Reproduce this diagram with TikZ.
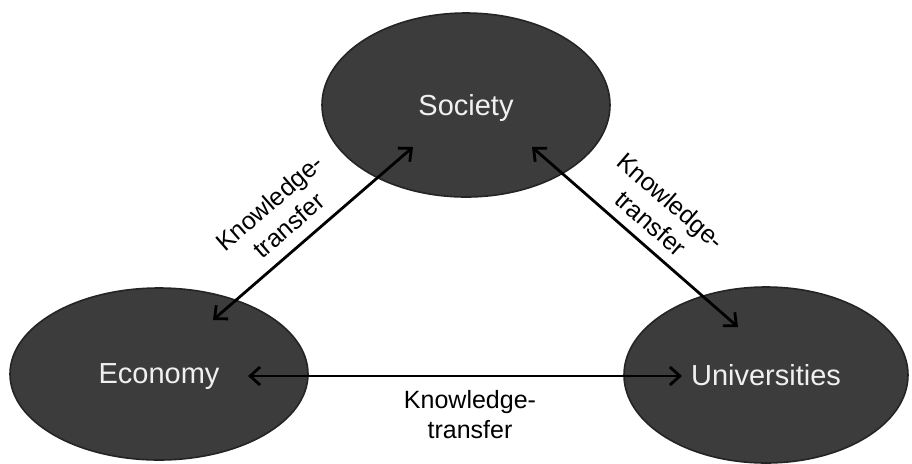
\documentclass[tikz,border=0pt]{standalone}
\usepackage{fontspec}
\setmainfont{Liberation Sans}
\usetikzlibrary{arrows.meta, shapes.geometric}

\definecolor{blobfill}{RGB}{60,60,60}
\definecolor{blobedge}{RGB}{36,36,36}

\begin{document}
\begin{tikzpicture}[
  x=0.5pt, y=-0.5pt,
  sector/.style={
    ellipse, draw=blobedge, line width=0.8pt, fill=blobfill,
    text=white!94!black, inner sep=0pt, text depth=0pt,
    font=\fontsize{14.5}{17}\selectfont
  },
  transfer/.style={<->, >={Straight Barb[length=5pt, width=9pt]}, line width=1.4pt},
  kt/.style={align=center, inner sep=0pt, font=\fontsize{12.5}{15}\selectfont}
]
\useasboundingbox (0,0) rectangle (912,463);

\node[sector, minimum width=144pt, minimum height=92pt] (soc) at (466,105) {Society};
\node[sector, minimum width=149pt, minimum height=86pt] (eco) at (159,374) {Economy};
\node[sector, minimum width=142pt, minimum height=88pt] (uni) at (766,375) {Universities};

% knowledge flows between the three sectors
\draw[transfer] ([shift={(54,-54)}]eco.center) -- ([shift={(-53,42)}]soc.center);
\draw[transfer] ([shift={(66,42)}]soc.center) -- ([shift={(-28,-48)}]uni.center);
\draw[transfer] ([shift={(89,2)}]eco.center) -- ([shift={(-84,1)}]uni.center);

\node[kt, rotate=41]  (ktl) at (279,214) {Knowledge-\\transfer};
\node[kt, rotate=-41] (ktr) at (661,212) {Knowledge-\\transfer};
\node[kt]             (ktb) at (470,415) {Knowledge-\\transfer};
\end{tikzpicture}
\end{document}
